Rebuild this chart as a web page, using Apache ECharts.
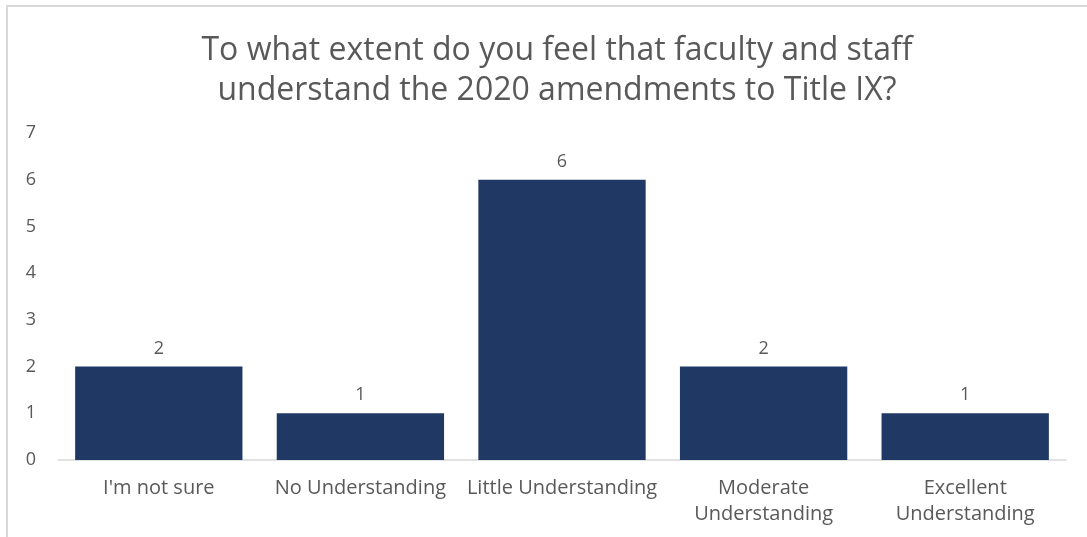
<!DOCTYPE html>
<html>
<head>
<meta charset="utf-8">
<style>
  html, body { margin: 0; padding: 0; background: #ffffff; }
  #chart { width: 1087px; height: 537px; }
</style>
<script src="https://cdn.jsdelivr.net/npm/echarts@6/dist/echarts.min.js"></script>
</head>
<body>
<div id="chart"></div>
<script>
// Survey responses: perceived understanding of the 2020 Title IX amendments
const categories = [
  "I'm not sure",
  "No Understanding",
  "Little Understanding",
  "Moderate\nUnderstanding",
  "Excellent\nUnderstanding"
];
const responses = [2, 1, 6, 2, 1];
const yTicks = { min: 0, max: 7, interval: 1 };

const titleText = "To what extent do you feel that faculty and staff\nunderstand the 2020 amendments to Title IX?";

const FONT = "'Open Sans', 'DejaVu Sans', sans-serif";
const TEXT = "#595959";

const chart = echarts.init(document.getElementById('chart'), null, { renderer: 'canvas' });

chart.setOption({
  backgroundColor: '#ffffff',
  animation: false,
  title: {
    text: titleText,
    left: 552,
    textAlign: 'center',
    top: 26,
    textStyle: {
      fontFamily: FONT,
      fontSize: 32,
      fontWeight: 'normal',
      color: TEXT,
      lineHeight: 40
    }
  },
  graphic: [{
    type: 'polyline',
    shape: { points: [[7, 537], [7, 6], [1087, 6]] },
    style: { stroke: '#d9d9d9', lineWidth: 2, fill: null },
    silent: true
  }],
  grid: { left: 58, right: 21, top: 133, bottom: 77 },
  xAxis: {
    type: 'category',
    data: categories,
    axisLine: { show: true, lineStyle: { color: '#d9d9d9', width: 1.5 } },
    axisTick: { show: false },
    axisLabel: {
      interval: 0,
      margin: 15,
      fontFamily: FONT,
      fontSize: 20,
      color: TEXT,
      lineHeight: 26
    }
  },
  yAxis: {
    type: 'value',
    min: yTicks.min,
    max: yTicks.max,
    interval: yTicks.interval,
    splitLine: { show: false },
    axisLine: { show: false },
    axisTick: { show: false },
    axisLabel: {
      margin: 22,
      fontFamily: FONT,
      fontSize: 18,
      color: TEXT
    }
  },
  series: [{
    type: 'bar',
    data: responses,
    barCategoryGap: '17%',
    itemStyle: { color: '#203864' },
    label: {
      show: true,
      position: 'top',
      distance: 9,
      fontFamily: FONT,
      fontSize: 18,
      color: TEXT
    }
  }]
});
</script>
</body>
</html>
